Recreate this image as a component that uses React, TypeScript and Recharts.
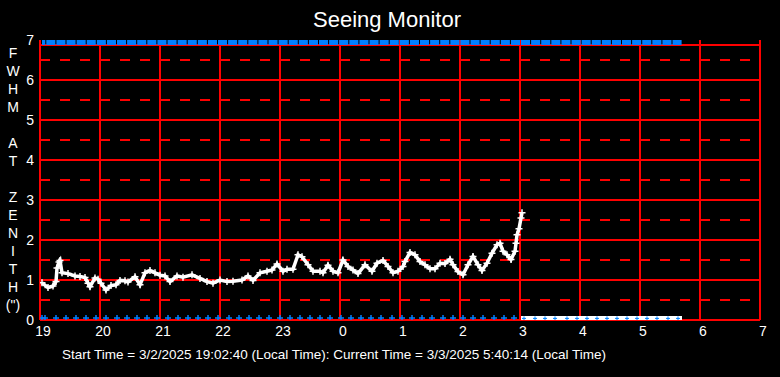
import React from "react"
import { ComposedChart, Line, XAxis, YAxis, CartesianGrid } from "recharts"

// x values are minutes since 19:00 local time
const hourTicks = [0, 60, 120, 180, 240, 300, 360, 420, 480, 540, 600, 660, 720]
const fwhmTicks = [0, 1, 2, 3, 4, 5, 6, 7]
const solidLevels = [0, 1, 2, 3, 4, 5, 6, 6.875]
const dashedLevels = [0.5, 1.5, 2.5, 3.5, 4.5, 5.5, 6.5]

const seeingMinutes = [
  2, 8, 13, 16, 17, 19, 20, 22, 28, 35, 40, 45, 48, 50, 55, 58, 61, 66, 71, 76,
  80, 85, 88, 95, 100, 105, 110, 115, 120, 125, 130, 137, 143, 152, 160, 167, 173, 180, 187, 193,
  202, 208, 213, 220, 227, 232, 237, 243, 247, 253, 258, 262, 268, 273, 280, 283, 288, 293, 298, 303,
  308, 313, 318, 325, 332, 337, 343, 348, 353, 358, 363, 365, 370, 375, 380, 385, 390, 395, 400, 405,
  410, 413, 418, 423, 428, 433, 438, 442, 447, 452, 457, 460, 463, 467, 471, 475, 476, 477, 479, 481, 482,
]
const seeingFwhm = [
  0.93, 0.81, 0.85, 0.96, 1.3, 1.45, 1.49, 1.18, 1.16, 1.1, 1.09, 1.06, 0.92, 0.83, 1.05, 1.02, 0.92, 0.75, 0.86, 0.88,
  0.99, 0.98, 0.95, 1.08, 0.88, 1.18, 1.24, 1.18, 1.12, 1.1, 0.96, 1.1, 1.07, 1.13, 1.04, 0.96, 0.92, 1.0, 0.96, 0.97,
  1.0, 1.1, 0.99, 1.18, 1.22, 1.25, 1.4, 1.22, 1.27, 1.27, 1.63, 1.58, 1.38, 1.22, 1.22, 1.18, 1.37, 1.22, 1.18, 1.5,
  1.34, 1.25, 1.16, 1.38, 1.22, 1.42, 1.49, 1.34, 1.18, 1.22, 1.34, 1.46, 1.69, 1.63, 1.46, 1.38, 1.28, 1.28, 1.42, 1.41,
  1.52, 1.38, 1.21, 1.13, 1.38, 1.59, 1.38, 1.24, 1.42, 1.67, 1.88, 1.92, 1.72, 1.63, 1.51, 1.72, 1.92, 2.13, 2.28, 2.55, 2.68,
]

// blue markers along the bottom (sampled), and those over the white band
const sampleMinutes = [
  2, 5, 16, 26, 36, 46, 56, 66, 77, 87, 97, 107, 117, 128, 138, 148, 158, 168, 178, 189,
  199, 209, 219, 229, 240, 250, 260, 270, 280, 290, 301, 311, 321, 331, 341, 352, 362, 372, 382, 392,
  403, 413, 423, 433, 443, 454, 464, 474,
]
const pendingMinutes = [484, 495, 505, 515, 527, 537, 547, 557, 567, 577, 587, 597, 607, 617, 628, 638]
const sampleLevel = 0.05

const topBandMinutes = [2, 642]
const topBandLevel = 6.94
const pendingBandMinutes = [481, 642]
const pendingBandLevel = 0.04

const yTitle = ["F", "W", "H", "M", "", "A", "T", "", "Z", "E", "N", "I", "T", "H", "(\")"]

const FONT = "'Liberation Sans', Arial, sans-serif"
const RED = "#ff0000"
const BLUE = "#0080ff"

const seeingData = seeingMinutes.map((m, i) => ({ m, v: seeingFwhm[i] }))
const sampleData = sampleMinutes.map((m) => ({ m, v: sampleLevel }))
const pendingData = pendingMinutes.map((m) => ({ m, v: pendingBandLevel }))
const topBand = topBandMinutes.map((m) => ({ m, v: topBandLevel }))
const pendingBand = pendingBandMinutes.map((m) => ({ m, v: pendingBandLevel }))

const cross = (color: string, r: number, w: number) => (props: any) => {
  const { cx, cy, index } = props
  if (cx == null || cy == null) return <g key={index} />
  return (
    <path
      key={index}
      d={`M${cx - r},${cy}H${cx + r}M${cx},${cy - r}V${cy + r}`}
      stroke={color}
      strokeWidth={w}
      fill="none"
    />
  )
}

const hourLabel = (m: number) => String((19 + m / 60) % 24)

export default function App() {
  return (
    <div style={{ position: "absolute", left: 0, top: 0, width: 780, height: 377, background: "#000", fontFamily: FONT, color: "#fff" }}>
      <ComposedChart width={780} height={377} margin={{ top: 40, right: 20, bottom: 0, left: 0 }}>

        <CartesianGrid
          vertical={false}
          horizontalValues={dashedLevels}
          stroke={RED}
          strokeWidth={2}
          strokeDasharray="10 10"
        />
        <CartesianGrid
          horizontalValues={solidLevels}
          verticalValues={hourTicks}
          stroke={RED}
          strokeWidth={2}
        />

        <XAxis
          dataKey="m"
          type="number"
          domain={[0, 720]}
          ticks={hourTicks}
          tickFormatter={hourLabel}
          height={57}
          axisLine={false}
          tickLine={false}
          tickSize={0}
          tickMargin={6}
          tick={{ fill: "#fff", fontSize: 14, fontFamily: FONT, dx: 3 }}
          allowDataOverflow
        />

        <YAxis
          type="number"
          domain={[0, 7]}
          ticks={fwhmTicks}
          width={40}
          axisLine={false}
          tickLine={false}
          tickSize={0}
          tickMargin={6}
          tick={{ fill: "#fff", fontSize: 14, fontFamily: FONT }}
          allowDataOverflow
        />

        <Line
          data={topBand}
          dataKey="v"
          stroke={BLUE}
          strokeWidth={5}
          strokeDasharray="9.1 1"
          strokeDashoffset={5.8}
          dot={false}
          isAnimationActive={false}
        />

        <Line
          data={pendingBand}
          dataKey="v"
          stroke="#fff"
          strokeWidth={5}
          dot={false}
          isAnimationActive={false}
        />

        <Line
          data={sampleData}
          dataKey="v"
          stroke="none"
          dot={cross(BLUE, 3, 1.5)}
          isAnimationActive={false}
        />

        <Line
          data={pendingData}
          dataKey="v"
          stroke="none"
          dot={cross(BLUE, 2, 1)}
          isAnimationActive={false}
        />

        <Line
          data={seeingData}
          dataKey="v"
          stroke="#fff"
          strokeWidth={3.5}
          dot={cross("#fff", 3.5, 1.5)}
          isAnimationActive={false}
        />

      </ComposedChart>

      <div style={{ position: "absolute", left: 0, top: 7, width: 774, textAlign: "center", fontSize: 22, lineHeight: "26px" }}>
        Seeing Monitor
      </div>

      <div style={{ position: "absolute", left: 0, top: 44, width: 26, textAlign: "center", fontSize: 14 }}>
        {yTitle.map((c, i) => (
          <div key={i} style={{ height: 18, lineHeight: "18px" }}>{c || "\u00a0"}</div>
        ))}
      </div>

      <div style={{ position: "absolute", left: 62, top: 346, fontSize: 13.5, lineHeight: "18px", whiteSpace: "pre" }}>
        Start Time = 3/2/2025 19:02:40 (Local Time): Current Time = 3/3/2025 5:40:14 (Local Time)
      </div>
    </div>
  )
}
